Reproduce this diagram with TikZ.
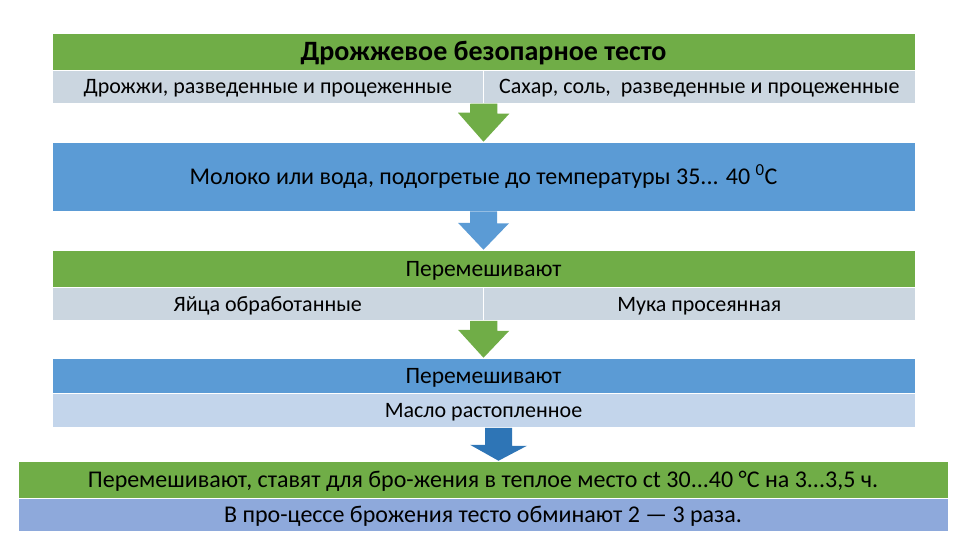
\documentclass[tikz,border=0pt]{standalone}
\usepackage{fontspec}
\setmainfont{Carlito}
\usetikzlibrary{positioning,calc}
\definecolor{bargreen}{HTML}{70AD47}
\definecolor{barblue}{HTML}{5B9BD5}
\definecolor{cellgray}{HTML}{CBD6E0}
\definecolor{celllight}{HTML}{C3D5EB}
\definecolor{cellblue}{HTML}{8EA9DB}
\definecolor{arrdark}{HTML}{2E75B6}

\begin{document}
\begin{tikzpicture}[x=1pt, y=-1pt,
  bar/.style={inner sep=0pt, text=black, draw=white, line width=0.5pt, text height=17pt, text depth=3pt, font=\fontsize{22}{26}\selectfont},
  bigbar/.style={bar, text height=18.4pt, font=\fontsize{24}{28}\selectfont},
  cell/.style={bar, fill=cellgray, minimum height=33pt}]
\useasboundingbox (0,0) rectangle (960,540);

% heading and first ingredients
\node[bar, fill=bargreen, minimum width=863pt, minimum height=37pt, text height=21pt, font=\fontsize{28}{32}\selectfont\bfseries] (head) at (483.5,51.5) {Дрожжевое безопарное тесто};
\node[cell, anchor=north west, minimum width=431.5pt] (yeast) at (head.south west) {Дрожжи, разведенные и процеженные};
\node[cell, anchor=north east, minimum width=431.5pt] (sugar) at (head.south east) {Сахар, соль,\ \ разведенные и процеженные};

\node[bigbar, fill=barblue, minimum width=863pt, minimum height=69pt] (milk) at (483.5,176.5) {Молоко или вода, подогретые до температуры 35... 40 \textsuperscript{0}C};

% second step
\node[bigbar, fill=bargreen, minimum width=863pt, minimum height=37pt, font=\fontsize{23.5}{28}\selectfont] (mix1) at (483.5,268.5) {Перемешивают};
\node[cell, anchor=north west, minimum width=431.5pt] (eggs) at (mix1.south west) {Яйца обработанные};
\node[cell, anchor=north east, minimum width=431.5pt] (flour) at (mix1.south east) {Мука просеянная};

% third step
\node[bigbar, fill=barblue, minimum width=863pt, minimum height=35pt, font=\fontsize{23.5}{28}\selectfont] (mix2) at (483.5,375.5) {Перемешивают};
\node[bar, fill=celllight, anchor=north, minimum width=863pt, minimum height=34pt] (butter) at (mix2.south) {Масло растопленное};

% fermentation
\node[bigbar, fill=bargreen, minimum width=930pt, minimum height=37pt] (ferm) at (483,479.5) {Перемешивают, ставят для бро-жения в теплое место ct 30...40 °C на 3...3,5 ч.};
\node[bigbar, fill=cellblue, anchor=north, minimum width=930pt, minimum height=33pt] (punch) at (ferm.south) {В про-цессе брожения тесто обминают 2 — 3 раза.};

% block arrows
\fill[bargreen] ($(yeast.south east)+(-13.5,0)$) -- ++(27,0) -- ++(0,10) -- ++(12,0) -- (milk.north) -- ++(-25.5,-29) -- ++(12,0) -- cycle;
\fill[barblue] ($(milk.south)+(-13.5,0)$) -- ++(27,0) -- ++(0,12) -- ++(12,0) -- (mix1.north) -- ++(-25.5,-27) -- ++(12,0) -- cycle;
\fill[bargreen] ($(eggs.south east)+(-13.5,0)$) -- ++(27,0) -- ++(0,10) -- ++(12,0) -- (mix2.north) -- ++(-25.5,-28) -- ++(12,0) -- cycle;
\fill[arrdark] ($(butter.south)+(1.5,0)$) -- ++(27,0) -- ++(0,18) -- ++(15,0) -- ($(ferm.north)+(15.5,0)$) -- ++(-28.5,-16) -- ++(15,0) -- cycle;
\end{tikzpicture}
\end{document}
